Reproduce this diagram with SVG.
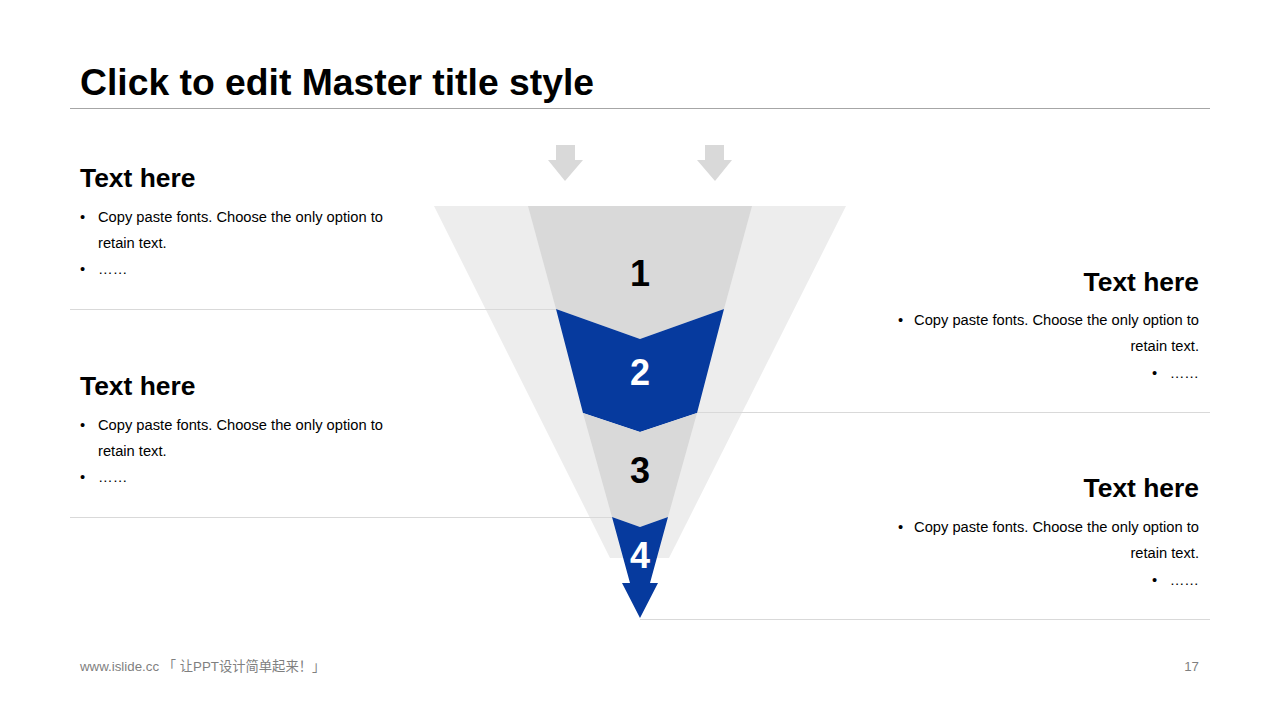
<svg xmlns="http://www.w3.org/2000/svg" width="1280" height="720" viewBox="0 0 1280 720">
<style>
.t{font-family:"Liberation Sans",Arial,sans-serif;fill:#000}
.h{font-size:26.4px;font-weight:bold}
.b{font-size:14.7px}
.n{font-family:"Liberation Sans",Arial,sans-serif;font-size:36px;font-weight:bold;text-anchor:middle}
.sep{stroke:#D9D9D9;stroke-width:1}
.gray{fill:#D9D9D9}
.blue{fill:#063A9E}
</style>
<rect width="1280" height="720" fill="#fff"/>
<text class="t" x="80" y="95" font-size="37.3" font-weight="bold">Click to edit Master title style</text>
<line x1="70" y1="108.5" x2="1210" y2="108.5" stroke="#A6A6A6" stroke-width="1"/>

<g id="funnel-bg">
<polygon points="434,206 846,206 669,558 610,558" fill="#EDEDED"/>
</g>
<g id="connectors">
<line class="sep" x1="70" y1="309.5" x2="556" y2="309.5"/>
<line class="sep" x1="70" y1="517.5" x2="612" y2="517.5"/>
<line class="sep" x1="697" y1="412.5" x2="1210" y2="412.5"/>
<line class="sep" x1="640" y1="619.5" x2="1210" y2="619.5"/>
</g>
<g id="arrows-top">
<polygon class="gray" points="556,145 575,145 575,160 583,160 565,181 548,160 556,160"/>
<polygon class="gray" points="705,145 724,145 724,160 732,160 715,181 697,160 705,160"/>
</g>
<g id="seg1">
<polygon class="gray" points="528,206 752,206 724,309 640,339 556,309"/>
<text class="n" x="640" y="286">1</text>
</g>
<g id="seg2">
<polygon class="blue" points="556,309 640,339 724,309 697,413 640,432 583,413"/>
<text class="n" x="640" y="385" fill="#fff">2</text>
</g>
<g id="seg3">
<polygon class="gray" points="583,413 640,432 697,413 668,517 640,527 612,517"/>
<text class="n" x="640" y="483">3</text>
</g>
<g id="seg4">
<polygon class="blue" points="612,517 640,527 668,517 650,583 658,583 640,618 622,583 630,583"/>
<text class="n" x="640" y="568" fill="#fff" font-size="30">4</text>
</g>

<g id="left1">
<text class="t h" x="80" y="187">Text here</text>
<text class="t b" x="80" y="222">•</text>
<text class="t b" x="98" y="222">Copy paste fonts. Choose the only option to</text>
<text class="t b" x="98" y="248">retain text.</text>
<text class="t b" x="80" y="274">•</text>
<text class="t b" x="98" y="274">……</text>
</g>
<g id="left2">
<text class="t h" x="80" y="395">Text here</text>
<text class="t b" x="80" y="430">•</text>
<text class="t b" x="98" y="430">Copy paste fonts. Choose the only option to</text>
<text class="t b" x="98" y="456">retain text.</text>
<text class="t b" x="80" y="482">•</text>
<text class="t b" x="98" y="482">……</text>
</g>
<g id="right1" text-anchor="end">
<text class="t h" x="1199" y="291">Text here</text>
<text class="t b" x="898" y="325" text-anchor="start">•</text>
<text class="t b" x="1199" y="325">Copy paste fonts. Choose the only option to</text>
<text class="t b" x="1199" y="351">retain text.</text>
<text class="t b" x="1152" y="378" text-anchor="start">•</text>
<text class="t b" x="1199" y="378">……</text>
</g>
<g id="right2" text-anchor="end">
<text class="t h" x="1199" y="497">Text here</text>
<text class="t b" x="898" y="532" text-anchor="start">•</text>
<text class="t b" x="1199" y="532">Copy paste fonts. Choose the only option to</text>
<text class="t b" x="1199" y="558">retain text.</text>
<text class="t b" x="1152" y="585" text-anchor="start">•</text>
<text class="t b" x="1199" y="585">……</text>
</g>
<g id="footer">
<text x="80" y="671" font-family="'Liberation Sans','Noto Sans CJK SC',sans-serif" font-size="13.3" fill="#7F7F7F">www.islide.cc 「 让PPT设计简单起来！」</text>
<text x="1199" y="671" font-family="'Liberation Sans',sans-serif" font-size="13.3" fill="#7F7F7F" text-anchor="end">17</text>
</g>
</svg>
